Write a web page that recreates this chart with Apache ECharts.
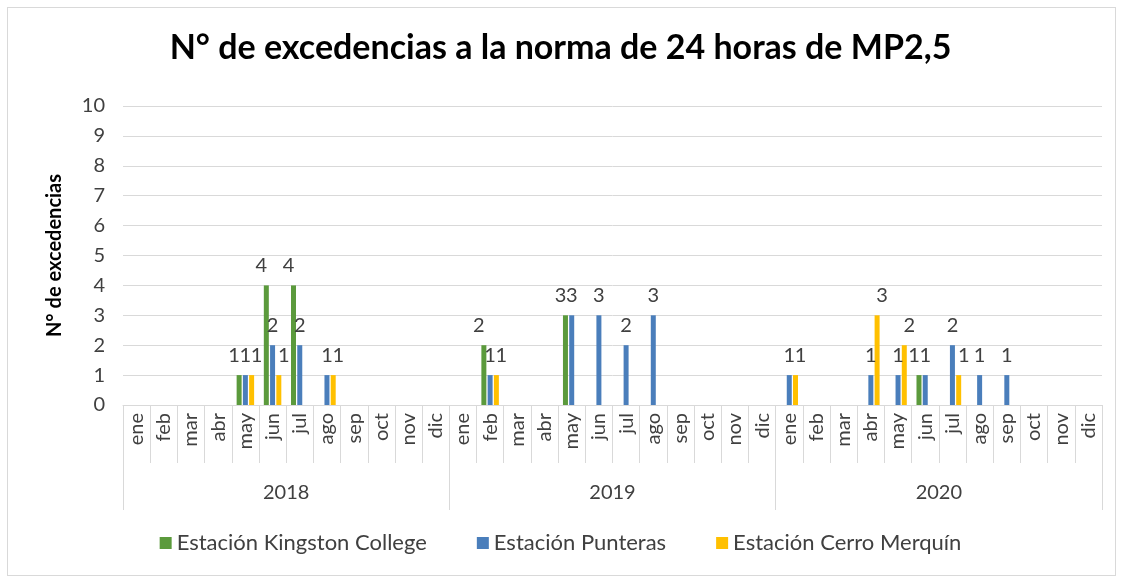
<!DOCTYPE html>
<html>
<head>
<meta charset="utf-8">
<script src="https://cdn.jsdelivr.net/npm/echarts@6/dist/echarts.min.js"></script>
<style>
  html, body { margin: 0; padding: 0; background: #fff; }
  #frame { position: absolute; left: 7px; top: 7px; width: 1107px; height: 567px; border: 1px solid #d9d9d9; }
  #chart_block { position: absolute; left: 0; top: 0; width: 1121px; height: 581px; }
</style>
</head>
<body>
<div id="frame"></div>
<div id="chart_block"></div>
<script>
var years = ['2018', '2019', '2020'];
var months = ['ene', 'feb', 'mar', 'abr', 'may', 'jun', 'jul', 'ago', 'sep', 'oct', 'nov', 'dic'];

// valores por mes (ene 2018 ... dic 2020)
var kingston = [
  0, 0, 0, 0, 1, 4, 4, 0, 0, 0, 0, 0,
  0, 2, 0, 0, 3, 0, 0, 0, 0, 0, 0, 0,
  0, 0, 0, 0, 0, 1, 0, 0, 0, 0, 0, 0
];
var punteras = [
  0, 0, 0, 0, 1, 2, 2, 1, 0, 0, 0, 0,
  0, 1, 0, 0, 3, 3, 2, 3, 0, 0, 0, 0,
  1, 0, 0, 1, 1, 1, 2, 1, 1, 0, 0, 0
];
var merquin = [
  0, 0, 0, 0, 1, 1, 0, 1, 0, 0, 0, 0,
  0, 1, 0, 0, 0, 0, 0, 0, 0, 0, 0, 0,
  1, 0, 0, 3, 2, 0, 1, 0, 0, 0, 0, 0
];

var categories = [];
years.forEach(function (y) {
  months.forEach(function (m) { categories.push(y + '|' + m); });
});

var textColor = '#404040';
var lineColor = '#d9d9d9';
var font = 'Lato';

function barSeries(name, data, color, dx) {
  return {
    name: name,
    type: 'bar',
    data: data,
    barWidth: 5,
    barGap: '25%',
    itemStyle: { color: color },
    label: {
      show: true,
      position: 'top',
      distance: 10,
      offset: [dx, 0],
      color: textColor,
      fontFamily: font,
      fontSize: 20,
      formatter: function (p) { return p.value ? String(p.value) : ''; }
    }
  };
}

var myChart = echarts.init(document.getElementById('chart_block'));

var option = {
  animation: false,
  textStyle: { fontFamily: font },
  title: {
    text: 'N° de excedencias a la norma de 24 horas de MP2,5',
    left: 'center',
    top: 26,
    textStyle: { fontFamily: font, fontSize: 34, fontWeight: 'bold', color: '#000' }
  },
  legend: {
    bottom: 22,
    left: 'center',
    itemWidth: 12,
    itemHeight: 12,
    itemGap: 50,
    icon: 'rect',
    textStyle: { fontFamily: font, fontSize: 22, color: textColor },
    data: ['Estación Kingston College', 'Estación Punteras', 'Estación Cerro Merquín']
  },
  grid: { left: 123, right: 19, top: 106, bottom: 176 },
  xAxis: [
    {
      type: 'category',
      data: categories,
      position: 'bottom',
      axisLine: { lineStyle: { color: lineColor, width: 1 } },
      axisTick: { show: true, interval: 0, length: 58, lineStyle: { color: lineColor } },
      axisLabel: {
        interval: 0,
        rotate: 90,
        margin: 8,
        color: textColor,
        fontFamily: font,
        fontSize: 20,
        formatter: function (v) { return v.split('|')[1]; }
      },
      splitLine: { show: false }
    },
    {
      type: 'category',
      data: years,
      position: 'bottom',
      axisLine: { show: false },
      axisTick: { show: true, interval: 0, length: 105, lineStyle: { color: lineColor } },
      axisLabel: { interval: 0, margin: 78, color: textColor, fontFamily: font, fontSize: 20 },
      splitLine: { show: false }
    }
  ],
  yAxis: {
    type: 'value',
    min: 0,
    max: 10,
    interval: 1,
    name: 'N° de excedencias',
    nameLocation: 'middle',
    nameGap: 58,
    nameTextStyle: { fontFamily: font, fontSize: 20, fontWeight: 'bold', color: '#000' },
    axisLine: { show: false },
    axisTick: { show: false },
    axisLabel: { margin: 18, color: textColor, fontFamily: font, fontSize: 20 },
    splitLine: { lineStyle: { color: lineColor, width: 1 } }
  },
  series: [
    barSeries('Estación Kingston College', kingston, '#5b9a3c', -5),
    barSeries('Estación Punteras', punteras, '#4a7ebb', 0),
    barSeries('Estación Cerro Merquín', merquin, '#ffc000', 5)
  ]
};

myChart.setOption(option);
</script>
</body>
</html>
